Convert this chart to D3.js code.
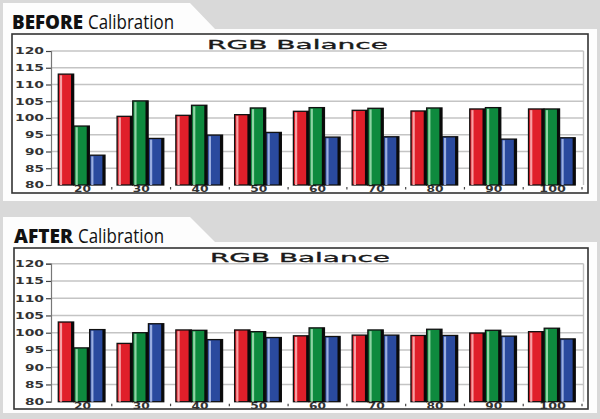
<!DOCTYPE html>
<html><head><meta charset="utf-8">
<script src="https://cdn.jsdelivr.net/npm/d3@7"></script>
<style>html,body{margin:0;padding:0;background:#d9d9d9;}svg{display:block;}</style>
</head><body>
<script>
const categories = ["20","30","40","50","60","70","80","90","100"];
const yTicks = [80,85,90,95,100,105,110,115,120];
const beforeRed   = [113.1,100.5,100.8,101.0,102.0,102.3,102.1,102.7,102.7];
const beforeGreen = [97.6,105.1,103.8,103.0,103.1,102.9,103.0,103.1,102.7];
const beforeBlue  = [88.9,93.9,94.9,95.7,94.3,94.4,94.4,93.7,94.1];
const afterRed    = [103.1,96.9,100.8,100.8,99.1,99.3,99.2,99.9,100.3];
const afterGreen  = [95.6,100.0,100.7,100.3,101.4,100.8,101.0,100.7,101.3];
const afterBlue   = [100.9,102.6,98.0,98.6,98.9,99.3,99.2,99.0,98.2];
const seriesNames = ["Red","Green","Blue"];
const seriesColors = ["#e01f2a","#0e8a3e","#2a4a9e"];
const seriesHighlights = ["#f7a0a4","#8fd4a4","#9aaee0"];

const W = 600, H = 419;
const svg = d3.select("body").append("svg").attr("width", W).attr("height", H);
svg.append("rect").attr("width", W).attr("height", H).attr("fill", "#d9d9d9");

function panel(cfg) {
  const g = svg.append("g");
  const p = cfg.panel;
  g.append("path").attr("fill", "#fdfdfd")
    .attr("d", `M${p.x0},${p.y0} L${p.tabX0},${p.y0} L${p.tabX1},${p.y1} L${p.x1},${p.y1} L${p.x1},${p.y2} L${p.x0},${p.y2} Z`);
  // heading
  const h = cfg.head;
  g.append("text").attr("x", h.x).attr("y", h.y)
    .attr("font-family", "Open Sans, sans-serif").attr("font-size", 19.5).attr("font-weight", 800)
    .attr("fill", "#111").attr("textLength", h.bw).attr("lengthAdjust", "spacingAndGlyphs").text(h.bold);
  g.append("text").attr("x", h.cx).attr("y", h.y)
    .attr("font-family", "Open Sans, sans-serif").attr("font-size", 19.5).attr("font-weight", 400)
    .attr("fill", "#111").attr("textLength", h.cw).attr("lengthAdjust", "spacingAndGlyphs").text("Calibration");

  const b = cfg.box;
  g.append("rect").attr("x", b.x0).attr("y", b.y0).attr("width", b.x1 - b.x0).attr("height", b.y1 - b.y0)
    .attr("fill", "#ffffff").attr("stroke", "#333").attr("stroke-width", 1.6);

  const y = d3.scaleLinear().domain([80,120]).range([cfg.plot.y0, cfg.plot.y1]);
  const x = d3.scaleBand().domain(categories).range([cfg.plot.x0, cfg.plot.x1]);
  const xs = d3.scaleBand().domain(seriesNames).range([5.3, 52]).paddingInner(0.02);

  g.append("g").selectAll("line").data(yTicks.slice(1)).join("line")
    .attr("x1", cfg.plot.x0 - 2).attr("x2", cfg.plot.x1 + 1.5)
    .attr("y1", d => y(d)).attr("y2", d => y(d))
    .attr("stroke", "#c4c4c4").attr("stroke-width", 1.4);
  g.append("line").attr("x1", cfg.plot.x1 + 1.5).attr("x2", cfg.plot.x1 + 1.5)
    .attr("y1", y(120)).attr("y2", y(80)).attr("stroke", "#c4c4c4").attr("stroke-width", 1.4);
  const yAxis = d3.axisLeft(y).tickValues(yTicks).tickSize(5).tickPadding(2);
  const ya = g.append("g").attr("transform", `translate(${cfg.plot.x0 - 2},0)`).call(yAxis);
  ya.select(".domain").attr("stroke", "#777").attr("stroke-width", 1.2);
  ya.selectAll(".tick line").attr("stroke", "#444").attr("stroke-width", 1.2);
  ya.selectAll(".tick text")
    .attr("font-family", "DejaVu Sans, sans-serif").attr("font-weight", "bold").attr("font-size", 8)
    .attr("fill", "#333").attr("dy", "0.35em")
    .attr("textLength", d => String(d).length * 10 - 1).attr("lengthAdjust", "spacingAndGlyphs");

  const xa = d3.axisBottom(x).tickSize(0).tickPadding(3);
  const xg = g.append("g").attr("transform", `translate(0,${y(80)})`).call(xa);
  xg.select(".domain").remove();
  xg.selectAll(".tick text")
    .attr("font-family", "DejaVu Sans, sans-serif").attr("font-weight", "bold").attr("font-size", 8)
    .attr("fill", "#333").attr("dy", "0.55em")
    .attr("textLength", d => d.length * 9.5 - 2).attr("lengthAdjust", "spacingAndGlyphs");
  g.append("g").selectAll("line").data(categories).join("line")
    .attr("x1", d => x(d) + x.bandwidth()).attr("x2", d => x(d) + x.bandwidth())
    .attr("y1", y(80) + 2).attr("y2", y(80) + 4.5)
    .attr("stroke", "#444").attr("stroke-width", 1.2);

  cfg.series.forEach((vals, si) => {
    const sg = g.append("g");
    const bx = (d, i) => x(categories[i]) + xs(seriesNames[si]);
    const bw = xs.bandwidth();
    sg.selectAll("rect.bar").data(vals).join("rect").attr("class", "bar")
      .attr("x", bx).attr("width", bw)
      .attr("y", d => y(d)).attr("height", d => y(80) - y(d))
      .attr("fill", seriesColors[si]).attr("stroke", "#111").attr("stroke-width", 1.3);
    sg.selectAll("rect.hl").data(vals).join("rect").attr("class", "hl")
      .attr("x", (d, i) => bx(d, i) + 1.6).attr("width", 2.2)
      .attr("y", d => y(d) + 1.2).attr("height", d => y(80) - y(d) - 1.2)
      .attr("fill", seriesHighlights[si]);
    sg.selectAll("rect.sh").data(vals).join("rect").attr("class", "sh")
      .attr("x", (d, i) => bx(d, i) + bw - 2.6).attr("width", 2.6)
      .attr("y", d => y(d)).attr("height", d => y(80) - y(d))
      .attr("fill", "#0a0a0a");
  });

  g.append("text").attr("x", cfg.title.x).attr("y", cfg.title.y)
    .attr("font-family", "DejaVu Sans, sans-serif").attr("font-weight", "normal").attr("font-size", 12)
    .attr("fill", "#1a1a1a").attr("stroke", "#1a1a1a").attr("stroke-width", 0.3)
    .attr("textLength", cfg.title.w).attr("lengthAdjust", "spacingAndGlyphs")
    .text("RGB Balance");
}

panel({
  panel: {x0: 3, y0: 3, tabX0: 190, tabX1: 215, x1: 597, y1: 29, y2: 201},
  head: {x: 12, y: 28.5, bold: "BEFORE", bw: 71, cx: 88, cw: 86},
  box: {x0: 12, y0: 34, x1: 588, y1: 193},
  plot: {x0: 53, x1: 582, y0: 185, y1: 51},
  title: {x: 207, y: 48.5, w: 181},
  series: [beforeRed, beforeGreen, beforeBlue]
});
panel({
  panel: {x0: 3, y0: 217, tabX0: 190, tabX1: 215, x1: 597, y1: 242, y2: 413},
  head: {x: 14, y: 242.5, bold: "AFTER", bw: 59, cx: 78, cw: 86},
  box: {x0: 14, y0: 248, x1: 588, y1: 409},
  plot: {x0: 53, x1: 582, y0: 401.7, y1: 263.7},
  title: {x: 210, y: 261.7, w: 180},
  series: [afterRed, afterGreen, afterBlue]
});
</script>
</body></html>
